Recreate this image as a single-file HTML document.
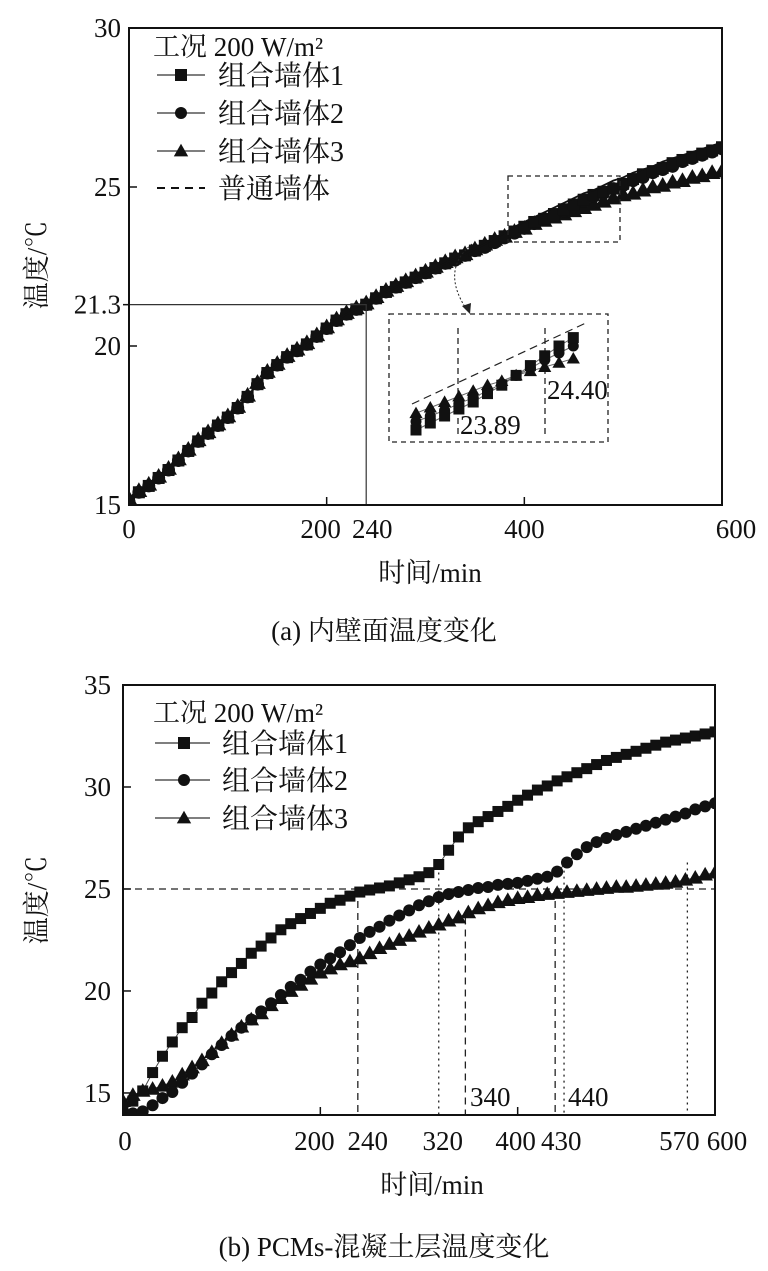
<!DOCTYPE html>
<html><head><meta charset="utf-8"><style>
html,body{margin:0;padding:0;background:#fff;}
svg{display:block;font-family:"Liberation Serif","Noto Serif CJK SC",serif;}
</style></head><body>
<svg id="s" width="768" height="1271" viewBox="0 0 768 1271" xmlns="http://www.w3.org/2000/svg"></svg>
<script>
// ---------- chart (a) data ----------
const timesA = [0,10,20,30,40,50,60,70,80,90,100,110,120,130,140,150,160,170,180,190,200,210,220,230,240,250,260,270,280,290,300,310,320,330,340,350,360,370,380,390,400,410,420,430,440,450,460,470,480,490,500,510,520,530,540,550,560,570,580,590,600];
const wall1A = [15.1,15.4,15.6,15.85,16.1,16.4,16.7,17.0,17.25,17.5,17.75,18.05,18.4,18.8,19.15,19.4,19.65,19.85,20.05,20.3,20.55,20.8,21.0,21.15,21.3,21.5,21.7,21.85,22.0,22.15,22.3,22.45,22.6,22.75,22.85,23.0,23.15,23.3,23.45,23.6,23.75,23.9,24.0,24.15,24.3,24.45,24.6,24.75,24.85,24.95,25.1,25.25,25.4,25.5,25.6,25.75,25.85,25.95,26.05,26.15,26.25];
const wall2A = [15.1,15.4,15.6,15.85,16.1,16.4,16.7,17.0,17.25,17.5,17.75,18.05,18.4,18.8,19.15,19.4,19.65,19.85,20.05,20.3,20.55,20.8,21.0,21.15,21.3,21.5,21.7,21.85,22.0,22.15,22.3,22.45,22.6,22.7,22.85,23.0,23.1,23.25,23.4,23.55,23.7,23.85,24.0,24.1,24.25,24.4,24.55,24.7,24.8,24.95,25.05,25.2,25.3,25.45,25.55,25.65,25.8,25.9,26.0,26.1,26.2];
const wall3A = [15.2,15.45,15.65,15.9,16.15,16.45,16.75,17.05,17.3,17.55,17.8,18.1,18.45,18.85,19.2,19.45,19.7,19.9,20.1,20.35,20.6,20.85,21.05,21.2,21.35,21.55,21.75,21.9,22.05,22.2,22.35,22.5,22.65,22.8,22.9,23.05,23.2,23.35,23.45,23.6,23.7,23.85,23.95,24.05,24.15,24.25,24.35,24.45,24.55,24.65,24.75,24.8,24.9,25.0,25.05,25.15,25.2,25.3,25.35,25.45,25.5];
const plainA = [15.1,15.4,15.6,15.85,16.1,16.4,16.7,17.0,17.25,17.5,17.75,18.05,18.4,18.8,19.15,19.4,19.65,19.85,20.05,20.3,20.55,20.8,21.0,21.15,21.3,21.5,21.7,21.85,22.0,22.15,22.3,22.45,22.6,22.75,22.9,23.05,23.2,23.4,23.55,23.75,23.9,24.05,24.2,24.35,24.5,24.65,24.8,24.9,25.05,25.2,25.3,25.45,25.55,25.65,25.8,25.9,26.0,26.1,26.2,26.3,26.4];
const yTicksA = [15,20,25,30];
const xTickLabelsA = [0,200,240,400,600];
const markTemp = 21.3, markTime = 240;
const insetW1 = [0,0.5,1.0,1.5,2.0,2.6,3.2,3.9,4.6,5.3,6.0,6.6];
const insetW2 = [0.6,1.0,1.4,1.9,2.3,2.8,3.3,3.9,4.4,5.0,5.5,6.0];
const insetW3 = [1.2,1.6,2.0,2.4,2.8,3.2,3.5,3.9,4.2,4.5,4.8,5.1];
// ---------- chart (b) data ----------
const timesB = timesA;
const wall1B = [14.3,14.6,15.1,16.0,16.8,17.5,18.2,18.7,19.4,19.9,20.45,20.9,21.35,21.85,22.2,22.6,23.0,23.3,23.55,23.8,24.05,24.3,24.45,24.65,24.85,24.95,25.05,25.15,25.3,25.45,25.6,25.8,26.2,26.9,27.55,28.0,28.3,28.55,28.8,29.05,29.35,29.6,29.85,30.05,30.3,30.5,30.7,30.9,31.1,31.3,31.45,31.6,31.75,31.9,32.05,32.2,32.3,32.4,32.5,32.6,32.7];
const wall2B = [14.0,14.0,14.1,14.4,14.75,15.05,15.5,15.95,16.4,16.9,17.35,17.8,18.2,18.6,19.0,19.4,19.8,20.2,20.55,20.95,21.3,21.6,21.9,22.25,22.6,22.9,23.15,23.45,23.7,23.95,24.2,24.4,24.6,24.75,24.85,24.95,25.05,25.1,25.2,25.25,25.3,25.4,25.5,25.6,25.85,26.3,26.7,27.05,27.3,27.5,27.65,27.8,27.95,28.1,28.25,28.4,28.55,28.7,28.9,29.05,29.2];
const wall3B = [14.6,14.9,15.1,15.2,15.35,15.55,15.9,16.25,16.6,17.0,17.45,17.85,18.25,18.6,18.9,19.3,19.65,20.0,20.3,20.6,20.9,21.1,21.3,21.45,21.6,21.85,22.1,22.3,22.5,22.7,22.9,23.1,23.25,23.45,23.6,23.85,24.05,24.2,24.35,24.45,24.55,24.6,24.7,24.75,24.8,24.85,24.9,24.95,25.0,25.05,25.1,25.1,25.15,25.2,25.25,25.3,25.35,25.45,25.55,25.7,25.8];
const yTicksB = [15,20,25,30,35];
const xTickLabelsB = [0,200,240,320,400,430,570,600];
const refTemp = 25;
const dashedTimes = [238,347,438];
const dashedTops = [25,23.6,25];
const dottedTimes = [320,447,572];
const dottedTops = [26.1,25.9,26.3];

const NS = "http://www.w3.org/2000/svg";
const svg = document.getElementById('s');
function mk(tag, attrs, parent){const e=document.createElementNS(NS,tag);for(const k in attrs)e.setAttribute(k,attrs[k]);(parent||svg).appendChild(e);return e;}
function txt(str,x,y,size,anchor,parent){const t=mk('text',{x:x,y:y,'font-size':size,'text-anchor':anchor||'start',fill:'#111'},parent);t.textContent=str;return t;}
function marker(g,shape,x,y,s){
  if(shape==='sq') return mk('rect',{x:x-s/2,y:y-s/2,width:s,height:s,fill:'#111'},g);
  if(shape==='ci') return mk('circle',{cx:x,cy:y,r:s/2,fill:'#111'},g);
  return mk('polygon',{points:`${x},${y-s*0.6} ${x-s*0.6},${y+s*0.45} ${x+s*0.6},${y+s*0.45}`,fill:'#111'},g);
}
const FS=27;

// ======== Chart A ========
const A = {x0:129,x1:722,y0:505,y1:28,tmin:0,tmax:600,vmin:15,vmax:30};
const xA = t => A.x0 + (t-A.tmin)/(A.tmax-A.tmin)*(A.x1-A.x0);
const yA = v => A.y0 - (v-A.vmin)/(A.vmax-A.vmin)*(A.y0-A.y1);
const gA = mk('g',{});


function series(g,xs,ys,xf,yf,shape,size,name,clip){
  const sg=mk('g',clip?{'clip-path':clip}:{},g);
  
  
  mk('polyline',{points:xs.map((t,i)=>xf(t)+','+yf(ys[i])).join(' '),fill:'none',stroke:'#444','stroke-width':1},sg);
  xs.forEach((t,i)=>{const m=marker(sg,shape,xf(t),yf(ys[i]),size);
    
    });
}
mk('defs',{}).innerHTML='<clipPath id="ca"><rect x="129" y="28" width="593" height="477"/></clipPath><clipPath id="cb"><rect x="123" y="685" width="592" height="430"/></clipPath>';
series(gA,timesA,wall3A,xA,yA,'tr',14,'series-a-wall3','url(#ca)');
series(gA,timesA,wall2A,xA,yA,'ci',13,'series-a-wall2','url(#ca)');
series(gA,timesA,wall1A,xA,yA,'sq',12,'series-a-wall1','url(#ca)');
const pl=mk('polyline',{points:timesA.map((t,i)=>xA(t)+','+yA(plainA[i])).join(' '),fill:'none',stroke:'#111','stroke-width':1.8,'clip-path':'url(#ca)'},gA);


const ml=mk('polyline',{points:`${xA(0)},${yA(markTemp)} ${xA(markTime)},${yA(markTemp)} ${xA(markTime)},${yA(15)}`,fill:'none',stroke:'#333','stroke-width':1.2},gA);


const fA=mk('rect',{x:A.x0,y:A.y1,width:A.x1-A.x0,height:A.y0-A.y1,fill:'none',stroke:'#111','stroke-width':2},gA);


yTicksA.forEach(v=>{mk('line',{x1:A.x0,x2:A.x0+8,y1:yA(v),y2:yA(v),stroke:'#111','stroke-width':1.5},gA);
  const t=txt(String(v),A.x0-8,yA(v)+9,FS,'end',gA);
  
  });
{const t=txt('21.3',A.x0-8,yA(markTemp)+9,FS,'end',gA);
 
 
 mk('line',{x1:A.x0-6,x2:A.x0,y1:yA(markTemp),y2:yA(markTemp),stroke:'#111','stroke-width':1.5},gA);}
xTickLabelsA.forEach(v=>{ if(v===200||v===400) mk('line',{x1:xA(v),x2:xA(v),y1:A.y0,y2:A.y0-8,stroke:'#111','stroke-width':1.5},gA);
  let dx=0; if(v===200)dx=-6; if(v===240)dx=6; if(v===600)dx=14;
  const t=txt(String(v),xA(v)+dx,A.y0+33,FS,'middle',gA);
  
  });
mk('rect',{x:508,y:176,width:112,height:66,fill:'none',stroke:'#222','stroke-width':1.3,'stroke-dasharray':'5,4'},gA);
mk('path',{d:'M472,244 Q440,270 467,310',fill:'none',stroke:'#222','stroke-width':1,'stroke-dasharray':'2,2'},gA);
mk('polygon',{points:'462,306 470,314 471,303',fill:'#222'},gA);
const ins=mk('g',{},gA);


mk('rect',{x:389,y:314,width:219,height:128,fill:'none',stroke:'#222','stroke-width':1.3,'stroke-dasharray':'5,4'},ins);
mk('line',{x1:458,x2:458,y1:328,y2:438,stroke:'#222','stroke-width':1.3,'stroke-dasharray':'6,4'},ins);
mk('line',{x1:545,x2:545,y1:328,y2:438,stroke:'#222','stroke-width':1.3,'stroke-dasharray':'6,4'},ins);
mk('line',{x1:412,x2:588,y1:404,y2:322,stroke:'#222','stroke-width':1.2,'stroke-dasharray':'8,5'},ins);
const ix=i=>416+i*14.3, iy=v=>430-v*14;
[[insetW3,'tr'],[insetW2,'ci'],[insetW1,'sq']].forEach(([arr,sh])=>{
  mk('polyline',{points:arr.map((v,i)=>ix(i)+','+iy(v)).join(' '),fill:'none',stroke:'#666','stroke-width':1},ins);
  arr.forEach((v,i)=>marker(ins,sh,ix(i),iy(v),11));});
txt('23.89',460,434,FS,'start',ins);
txt('24.40',547,399,FS,'start',ins);
const lgA=mk('g',{},gA);


txt('工况 200 W/m²',153,56,FS,'start',lgA);
[['sq','组合墙体1',75],['ci','组合墙体2',113],['tr','组合墙体3',151]].forEach(([sh,l,y])=>{
  const e=mk('g',{},lgA);
  
  
  mk('line',{x1:157,x2:205,y1:y,y2:y,stroke:'#333','stroke-width':1.2},e);
  marker(e,sh,181,y,12);txt(l,218,y+10,28,'start',e);});
{const e=mk('g',{},lgA);
 
 
 mk('line',{x1:157,x2:205,y1:188,y2:188,stroke:'#111','stroke-width':2,'stroke-dasharray':'8,6'},e);
 txt('普通墙体',218,198,28,'start',e);}
{const t=txt('温度/℃',0,0,FS,'middle',gA);t.setAttribute('transform','translate(46,265) rotate(-90)');
 
 }
{const t=txt('时间/min',430,582,FS,'middle',gA);
 
 }
{const t=txt('(a) 内壁面温度变化',384,640,FS,'middle',gA);
 
 }

// ======== Chart B ========
const B = {x0:123,x1:715,y0:1115,y1:685,tmin:0,tmax:600,vmin:13.92,vmax:35};
const xB = t => B.x0 + (t-B.tmin)/(B.tmax-B.tmin)*(B.x1-B.x0);
const yB = v => B.y0 - (v-B.vmin)/(B.vmax-B.vmin)*(B.y0-B.y1);
const gB = mk('g',{});


{const h=mk('line',{x1:xB(0),x2:xB(600),y1:yB(refTemp),y2:yB(refTemp),stroke:'#222','stroke-width':1.3,'stroke-dasharray':'7,5'},gB);
 
 }
dashedTimes.forEach((t,i)=>{const l=mk('line',{x1:xB(t),x2:xB(t),y1:yB(dashedTops[i]),y2:B.y0,stroke:'#222','stroke-width':1.3,'stroke-dasharray':'7,5'},gB);
 
 });
dottedTimes.forEach((t,i)=>{const l=mk('line',{x1:xB(t),x2:xB(t),y1:yB(dottedTops[i]),y2:B.y0,stroke:'#222','stroke-width':1.3,'stroke-dasharray':'2,4'},gB);
 
 });
series(gB,timesB,wall3B,xB,yB,'tr',13,'series-b-wall3','url(#cb)');
series(gB,timesB,wall2B,xB,yB,'ci',12,'series-b-wall2','url(#cb)');
series(gB,timesB,wall1B,xB,yB,'sq',11,'series-b-wall1','url(#cb)');
const fB=mk('rect',{x:B.x0,y:B.y1,width:B.x1-B.x0,height:B.y0-B.y1,fill:'none',stroke:'#111','stroke-width':2},gB);


yTicksB.forEach(v=>{mk('line',{x1:B.x0,x2:B.x0+8,y1:yB(v),y2:yB(v),stroke:'#111','stroke-width':1.5},gB);
  const t=txt(String(v),B.x0-12,yB(v)+9,FS,'end',gB);
  
  });
xTickLabelsB.forEach(v=>{ if(v===200||v===400) mk('line',{x1:xB(v),x2:xB(v),y1:B.y0,y2:B.y0-8,stroke:'#111','stroke-width':1.5},gB);
  let dx=0; if(v===200)dx=-6; if(v===240)dx=8; if(v===320)dx=4; if(v===400)dx=-2; if(v===430)dx=14; if(v===570)dx=-6; if(v===600)dx=12; if(v===0)dx=2;
  const t=txt(String(v),xB(v)+dx,B.y0+35,FS,'middle',gB);
  
  });
txt('340',470,1106,FS,'start',gB);
txt('440',568,1106,FS,'start',gB);
const lgB=mk('g',{},gB);


txt('工况 200 W/m²',153,722,FS,'start',lgB);
[['sq','组合墙体1',743],['ci','组合墙体2',780],['tr','组合墙体3',818]].forEach(([sh,l,y])=>{
  const e=mk('g',{},lgB);
  
  
  mk('line',{x1:155,x2:210,y1:y,y2:y,stroke:'#333','stroke-width':1.2},e);
  marker(e,sh,184,y,12);txt(l,222,y+10,28,'start',e);});
{const t=txt('温度/℃',0,0,FS,'middle',gB);t.setAttribute('transform','translate(46,900) rotate(-90)');
 
 }
{const t=txt('时间/min',432,1194,FS,'middle',gB);
 
 }
{const t=txt('(b) PCMs-混凝土层温度变化',384,1256,FS,'middle',gB);
 
 }
</script>
</body></html>
